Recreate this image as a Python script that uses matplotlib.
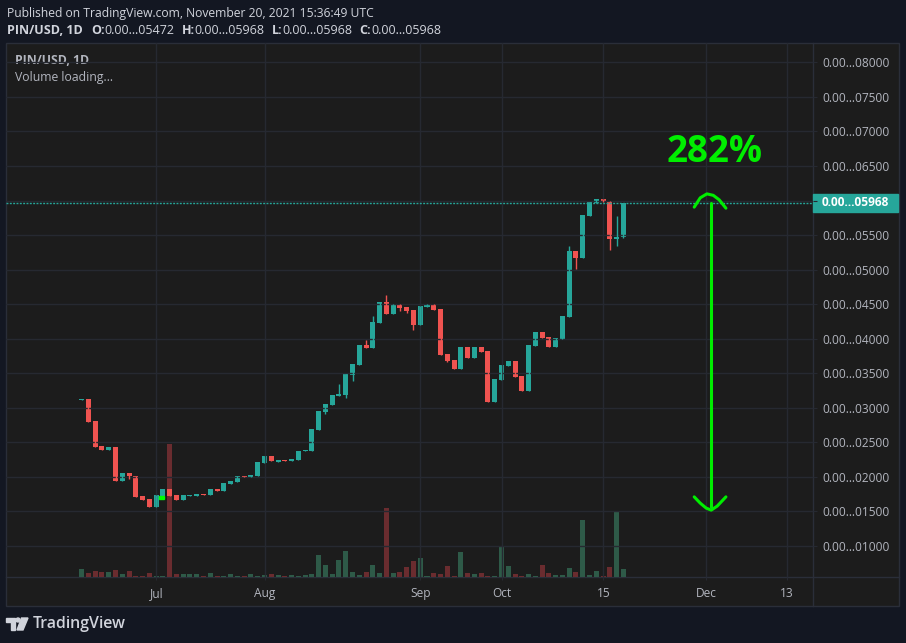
import numpy as np
import matplotlib.pyplot as plt
from matplotlib.patches import Rectangle, Polygon, Circle

W, H = 906, 643

# daily candles, price in units of the last displayed digits (0.00...xxxxx)
opens = [3118, 3126, 2806, 2442, 2384, 2427, 1947, 2063, 2019, 1728,
         1685, 1568, 1728, 1830, 1743, 1670, 1730, 1730, 1757, 1743,
         1830, 1801, 1903, 1932, 2019, 2005, 2019, 2194, 2296, 2220,
         2249, 2235, 2249, 2370, 2380, 2684, 2945, 3046, 3177, 3191,
         3481, 3626, 3916, 3872, 4234, 4539, 4365, 4510, 4466, 4423,
         4205, 4466, 4505, 4432, 3780, 3693, 3563, 3882, 3722, 3882,
         3824, 3085, 3403, 3606, 3679, 3461, 3244, 3896, 4099, 4027,
         3882, 3998, 4316, 5273, 5171, 5780, 5969, 6027, 5998, 5447,
         5472]
highs = [3122, 3126, 2806, 2442, 2427, 2427, 2063, 2063, 2019, 1728,
         1685, 1743, 1830, 1830, 1743, 1743, 1743, 1757, 1757, 1830,
         1830, 1918, 1947, 2019, 2019, 2034, 2209, 2296, 2296, 2249,
         2249, 2264, 2380, 2394, 2698, 2959, 3061, 3191, 3350, 3495,
         3640, 3916, 3988, 4336, 4539, 4626, 4510, 4510, 4466, 4423,
         4481, 4510, 4505, 4432, 3780, 3693, 3882, 3882, 3882, 3882,
         3824, 3418, 3621, 3679, 3679, 3461, 3911, 4099, 4099, 4027,
         4012, 4331, 5345, 5273, 5795, 5983, 6027, 6027, 5998, 5780,
         5968]
lows = [3118, 2791, 2427, 2384, 2384, 1947, 1947, 1976, 1714, 1670,
        1568, 1568, 1728, 1728, 1670, 1670, 1730, 1730, 1745, 1743,
        1801, 1801, 1903, 1932, 2005, 2005, 2019, 2194, 2223, 2220,
        2235, 2235, 2249, 2370, 2380, 2684, 2916, 3046, 3177, 3148,
        3394, 3626, 3872, 3872, 4234, 4365, 4365, 4408, 4379, 4133,
        4205, 4466, 4418, 3766, 3664, 3563, 3563, 3722, 3722, 3809,
        3085, 3085, 3403, 3606, 3447, 3244, 3244, 3896, 4012, 3882,
        3882, 3998, 4316, 5012, 5171, 5780, 5969, 5983, 5287, 5345,
        5461]
closes = [3122, 2791, 2427, 2384, 2427, 1947, 2063, 2010, 1714, 1670,
          1568, 1743, 1830, 1728, 1670, 1743, 1743, 1757, 1745, 1830,
          1801, 1918, 1947, 2019, 2005, 2034, 2209, 2296, 2223, 2249,
          2235, 2264, 2380, 2394, 2698, 2959, 3061, 3191, 3206, 3495,
          3640, 3916, 3872, 4249, 4539, 4365, 4510, 4452, 4408, 4205,
          4481, 4510, 4418, 3766, 3679, 3563, 3882, 3722, 3882, 3809,
          3085, 3418, 3621, 3679, 3447, 3244, 3911, 4099, 4012, 3882,
          4012, 4331, 5273, 5171, 5795, 5983, 6027, 5983, 5447, 5476,
          5968]
volumes = [8, 4, 6, 5, 5, 7, 3, 6, 1, 1, 4, 1, 1, 133, 3, 3, 3, 3, 1, 4,
           1, 1, 3, 1, 1, 3, 1, 2, 3, 2, 1, 2, 1, 2, 3, 22, 12, 3, 17, 26,
           5, 2, 5, 12, 4, 69, 4, 5, 10, 16, 19, 1, 4, 3, 11, 1, 25, 4, 3, 4,
           1, 1, 31, 11, 3, 1, 3, 1, 12, 4, 2, 2, 9, 5, 57, 2, 6, 1, 10, 65, 8]

price_ticks = list(range(1000, 8001, 500))
time_tick_pos = [11.03, 27.1, 50.0, 62.1, 77.06, 92.2, 104.1]
time_tick_labels = ['Jul', 'Aug', 'Sep', 'Oct', '15', 'Dec', '13']
last_price = 5968
move_low, move_high, move_x = 1568, 5968, 93
move_label = '282%'
cap_top_x = [90.46, 91.35, 92.33, 93.27, 94.15, 95.14]
cap_top_y = [5905, 6040, 6097, 6076, 6011, 5890]
cap_bot_x = [90.46, 91.35, 92.23, 92.97, 93.85, 95.14]
cap_bot_y = [1711, 1620, 1548, 1519, 1577, 1711]

BG = '#131722'
PANE = '#1c1c1c'
GRID = '#262931'
TXT = '#b2b5be'
HEAD = '#d1d4dc'
UP = '#26a69a'
DOWN = '#ef5350'
UPV = '#2e5a48'
DOWNV = '#6a2c2f'
MARK = '#00ee00'

plt.rcParams['font.family'] = ['Open Sans', 'DejaVu Sans']

fig = plt.figure(figsize=(W / 100, H / 100), dpi=100)
fig.patch.set_facecolor(BG)

# backdrop in pixel coords: chart frame, header, logo
bg = fig.add_axes([0, 0, 1, 1], zorder=0)
bg.set_xlim(0, W)
bg.set_ylim(H, 0)
bg.axis('off')
bg.add_patch(Rectangle((6, 43), 893, 563, facecolor=PANE, edgecolor='#2a2e39', lw=1))
bg.plot([6, 899], [577, 577], color='#2a2e39', lw=1)
bg.plot([813, 813], [43, 606], color='#2a2e39', lw=1)

bg.text(7, 13, 'Published on TradingView.com, November 20, 2021 15:36:49 UTC',
        color=HEAD, fontsize=8.7, va='center')
parts = [('PIN/USD, 1D', 'bold', 0), ('O:', 'bold', 6), ('0.00…05472', 'normal', 0),
         ('H:', 'bold', 5), ('0.00…05968', 'normal', 0), ('L:', 'bold', 5),
         ('0.00…05968', 'normal', 0), ('C:', 'bold', 5), ('0.00…05968', 'normal', 0)]
prev = None
for s, wgt, gap in parts:
    if prev is None:
        prev = bg.text(7, 33.5, s, color=HEAD, fontsize=9, weight=wgt, va='baseline')
    else:
        prev = bg.annotate(s, xy=(1, 0), xycoords=prev, xytext=(gap, 0),
                           textcoords='offset points', color=HEAD, fontsize=9,
                           weight=wgt, va='bottom')
bg.text(15, 61, 'PIN/USD, 1D', color=TXT, fontsize=8.8, weight='bold', va='center')
bg.text(15, 77, 'Volume loading…', color=TXT, fontsize=8.8, va='center')

# logo
bg.add_patch(Polygon([(6, 618), (15, 618), (15, 630), (11, 630), (11, 622), (6, 622)],
                     color=HEAD))
bg.add_patch(Circle((18, 620), 2, color=HEAD))
bg.add_patch(Polygon([(21.5, 618), (28, 618), (23, 630), (17, 630)], color=HEAD))
bg.text(33, 624, 'TradingView', color=HEAD, fontsize=11.4, weight='semibold', va='center')

ax = fig.add_axes([6 / W, (H - 577) / H, 807 / W, 534 / H])
vax = ax.twinx()
ax.set_zorder(3)
vax.set_zorder(2)
for a in (ax, vax):
    a.patch.set_visible(False)
    for s in a.spines.values():
        s.set_visible(False)

o = np.array(opens)
c = np.array(closes)
x = np.arange(len(o))
up = c >= o
cols = np.where(up, UP, DOWN)

vax.bar(x, volumes, width=0.74, color=np.where(up, UPV, DOWNV))
vax.set_ylim(0, 534)
vax.set_yticks([])

ax.vlines(x, lows, highs, color=cols, lw=1)
ax.bar(x, np.maximum(np.abs(c - o), 14), bottom=np.minimum(o, c), width=0.74, color=cols)
ax.add_patch(Rectangle((11.4, 1678), 0.72, 40, color='#00ff00', zorder=4))

ax.set_xlim(-11.17, 108.0)
ax.set_ylim(551, 8281)
ax.yaxis.tick_right()
ax.set_yticks(price_ticks)
ax.set_yticklabels(['' if p == 6000 else '0.00…%05d' % p for p in price_ticks])
ax.set_xticks(time_tick_pos)
ax.set_xticklabels(time_tick_labels)
ax.tick_params(axis='y', colors=GRID, labelcolor=TXT, labelsize=8.6, length=3, pad=3.5)
ax.tick_params(axis='x', colors=GRID, labelcolor=TXT, labelsize=8.6, length=2.5, pad=5)
ax.grid(True, color=GRID, lw=1)

ax.axhline(last_price, color=UP, lw=1, ls=(0, (1.4, 1.0)))

# move annotation
ax.plot([move_x, move_x], [move_low, move_high], color=MARK, lw=2.2, solid_capstyle='round')
ax.plot(cap_top_x, cap_top_y, color=MARK, lw=2.2, solid_capstyle='round')
ax.plot(cap_bot_x, cap_bot_y, color=MARK, lw=2.2, solid_capstyle='round')
ax.text(93.4, 6706, move_label, color=MARK, fontsize=26.5, weight='bold', ha='center', va='center')

# last price badge on the price scale
fig.canvas.draw()
ypx = H - ax.transData.transform((0, last_price))[1]
bg.add_patch(Rectangle((813, ypx - 9), 85, 18, color=UP, zorder=5))
bg.text(822, ypx, '0.00…%05d' % last_price, color='white', fontsize=8.6, weight='bold',
        va='center', zorder=6)

fig.savefig('out.png', dpi=100, facecolor=BG)
